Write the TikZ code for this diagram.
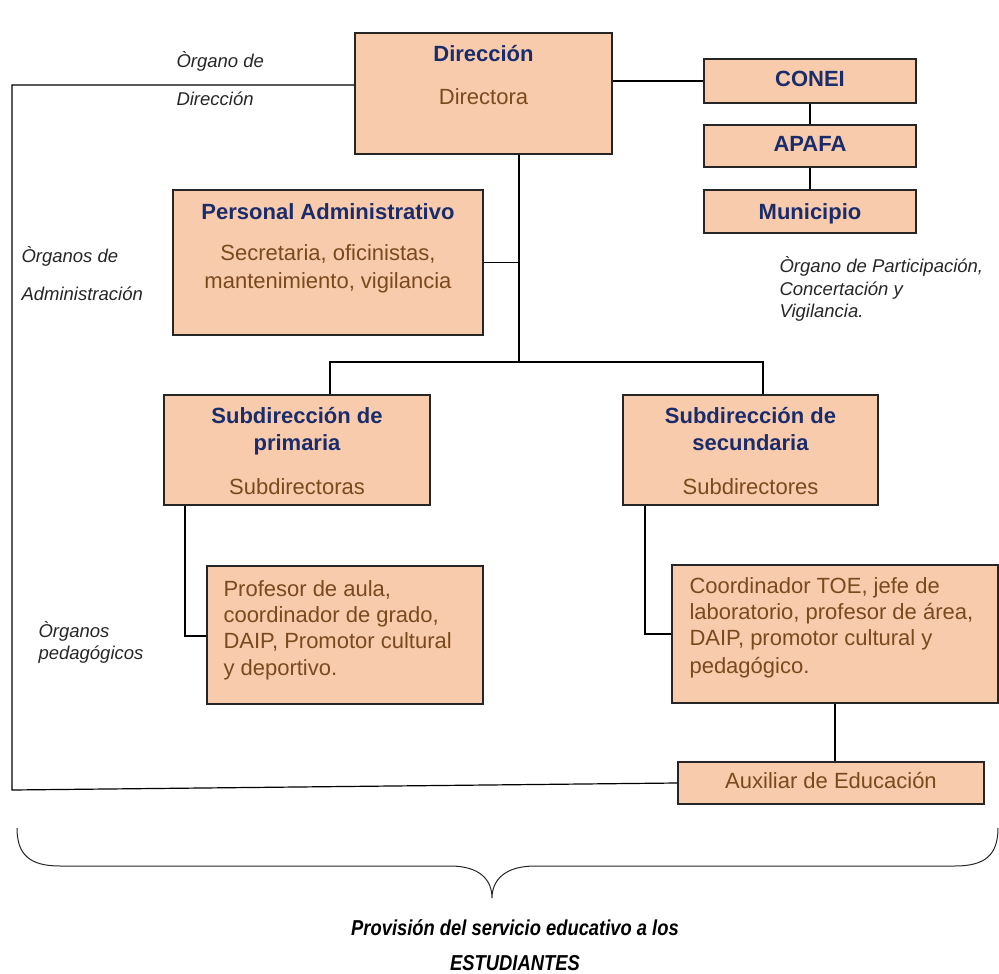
\documentclass[tikz,border=0pt]{standalone}
\usepackage{fontspec}
\setmainfont{Liberation Sans}
\newfontfamily\narrowfont{Liberation Sans}[FakeStretch=0.85]
\definecolor{melon}{HTML}{F8CBAD}
\definecolor{azulT}{HTML}{1B2C6B}
\definecolor{cafeT}{HTML}{7A4A1C}
\definecolor{grisL}{HTML}{262626}
\begin{document}
\begin{tikzpicture}[x=1pt, y=-1pt,
        caja/.style = {draw=grisL, line width=1.3pt, fill=melon, inner sep=0pt},
        titulo/.style = {anchor=base, text=azulT, font=\fontsize{22}{26}\selectfont\bfseries},
        cuerpo/.style = {anchor=base, text=cafeT, font=\fontsize{22}{26}\selectfont},
        cuerpoL/.style = {anchor=base west, text=cafeT, font=\fontsize{22}{26}\selectfont},
        nota/.style = {anchor=base west, text=grisL, font=\fontsize{18.5}{22}\selectfont\itshape},
        pie/.style = {anchor=base, inner sep=0pt, font=\fontsize{21.6}{25}\narrowfont\bfseries\itshape},
        linea/.style = {line width=1.2pt, black}]
        \useasboundingbox (0,0) rectangle (999,974);
        % cajas
        \node[caja, minimum width=257pt, minimum height=121pt] (dir) at (483.5,93.5) {};
        \node[caja, minimum width=212pt, minimum height=44pt] (conei) at (810,81) {};
        \node[caja, minimum width=212pt, minimum height=42pt] (apafa) at (810,146) {};
        \node[caja, minimum width=212pt, minimum height=43pt] (muni) at (810,211.5) {};
        \node[caja, minimum width=310pt, minimum height=145pt] (admin) at (328,262.5) {};
        \node[caja, minimum width=266pt, minimum height=110pt] (subp) at (297,450) {};
        \node[caja, minimum width=255pt, minimum height=110pt] (subs) at (750.5,450) {};
        \node[caja, minimum width=276pt, minimum height=138pt] (profp) at (345,635) {};
        \node[caja, minimum width=326pt, minimum height=138pt] (profs) at (835,634) {};
        \node[caja, minimum width=306pt, minimum height=42pt] (aux) at (831,783) {};
        % textos de las cajas
        \node[titulo] (dirT) at (483.5,62) {Dirección};
        \node[cuerpo] (dirC) at (483.5,104) {Directora};
        \node[titulo] (coneiT) at (810,87) {CONEI};
        \node[titulo] (apafaT) at (810,151) {APAFA};
        \node[titulo] (muniT) at (810,219) {Municipio};
        \node[titulo] (adminT) at (328,219) {Personal Administrativo};
        \node[cuerpo] (adminC1) at (328,260) {Secretaria, oficinistas,};
        \node[cuerpo] (adminC2) at (328,288) {mantenimiento, vigilancia};
        \node[titulo] (subpT1) at (297,423) {Subdirección de};
        \node[titulo] (subpT2) at (297,450) {primaria};
        \node[cuerpo] (subpC) at (297,494) {Subdirectoras};
        \node[titulo] (subsT1) at (750.5,423) {Subdirección de};
        \node[titulo] (subsT2) at (750.5,450) {secundaria};
        \node[cuerpo] (subsC) at (750.5,494) {Subdirectores};
        \node[cuerpoL] (profp1) at (220,596) {Profesor de aula,};
        \node[cuerpoL] (profp2) at (220,622) {coordinador de grado,};
        \node[cuerpoL] (profp3) at (220,648) {DAIP, Promotor cultural};
        \node[cuerpoL] (profp4) at (220,675) {y deportivo.};
        \node[cuerpoL] (profs1) at (686,593) {Coordinador TOE, jefe de};
        \node[cuerpoL] (profs2) at (686,619) {laboratorio, profesor de área,};
        \node[cuerpoL] (profs3) at (686,645) {DAIP, promotor cultural y};
        \node[cuerpoL] (profs4) at (686,673) {pedagógico.};
        \node[cuerpo] (auxT) at (831,788) {Auxiliar de Educación};
        % notas
        \node[nota] (n1a) at (173,67) {Òrgano de};
        \node[nota] (n1b) at (173,105) {Dirección};
        \node[nota] (n2a) at (18,262) {Òrganos de};
        \node[nota] (n2b) at (18,300) {Administración};
        \node[nota] (n3a) at (776,272) {Òrgano de Participación,};
        \node[nota] (n3b) at (776,295) {Concertación y};
        \node[nota] (n3c) at (776,317) {Vigilancia.};
        \node[nota] (n4a) at (35,637) {Òrganos};
        \node[nota] (n4b) at (35,659) {pedagógicos};
        % puntos de quiebre
        \coordinate (esq1) at (12,85);
        \coordinate (esq2) at (12,790);
        \coordinate (tronco) at (519,362);
        \coordinate (ramaI) at (330,362);
        \coordinate (ramaD) at (763,362);
        \coordinate (codoP) at (185,636);
        \coordinate (codoS) at (645,634);
        % conectores
        \draw[linea] (esq1 -| dir.west) -- (esq1) -- (esq2) -- (aux.west);
        \draw[linea] (dir.east |- conei.west) -- (conei.west);
        \draw[linea] (conei) -- (apafa);
        \draw[linea] (apafa) -- (muni);
        \draw[linea] (tronco |- dir.south) -- (tronco);
        \draw[linea] (admin.east) -- (admin.east -| tronco);
        \draw[linea] (ramaI |- subp.north) -- (ramaI) -- (ramaD) -- (ramaD |- subs.north);
        \draw[linea] (codoP |- subp.south) -- (codoP) -- (codoP -| profp.west);
        \draw[linea] (codoS |- subs.south) -- (codoS) -- (codoS -| profs.west);
        \draw[linea] (profs.south) -- (profs.south |- aux.north);
        % llave
        \draw[grisL, line width=1pt] (17,828) .. controls (17,855) and (30,866) .. (60,866)
            -- (450,866) .. controls (480,866) and (492,880) .. (492,898)
            .. controls (492,880) and (505,866) .. (535,866)
            -- (955,866) .. controls (985,866) and (998,855) .. (998,828);
        \node[pie] (prov) at (515,935) {Provisión del servicio educativo a los};
        \node[pie] (estu) at (515,970) {ESTUDIANTES};
    \end{tikzpicture}
\end{document}
